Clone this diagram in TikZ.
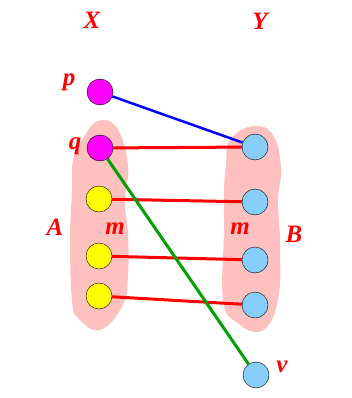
\documentclass[tikz,border=0pt]{standalone}
\usepackage{fontspec}
\setmainfont{Liberation Serif}
\usepackage{xcolor}
\usepackage{tikz}
\usetikzlibrary{positioning,calc}
\definecolor{setpink}{RGB}{255,192,192}
\definecolor{ptmag}{RGB}{255,0,255}
\definecolor{ptyel}{RGB}{255,255,0}
\definecolor{ptsky}{RGB}{135,206,250}
\definecolor{matchgreen}{RGB}{0,160,0}
\tikzset{
  pt/.style={circle, draw=black, thin, minimum size=26pt, inner sep=0pt},
  xpt/.style={pt, fill=ptmag},
  apt/.style={pt, fill=ptyel},
  ypt/.style={pt, fill=ptsky},
  lab/.style={font=\fontsize{25}{30}\selectfont\bfseries\itshape, text=red, inner sep=0pt},
  blob/.style={fill=setpink, draw=none},
  link/.style={line width=3pt, red},
  plink/.style={line width=2.5pt, blue},
  vlink/.style={line width=3pt, matchgreen}
}

\begin{document}
\begin{tikzpicture}[x=1pt,y=-1pt]
    \useasboundingbox (0,0) rectangle (352,398);
    % the two sets
    \fill[blob] plot[smooth cycle, tension=0.7] coordinates {(98,121) (117,128) (128,165) (125,200)
      (128,235) (128,275) (123,305) (100,330) (78,318) (72,300) (70,240) (72,190) (73,160) (82,140)};
    \fill[blob] plot[smooth cycle, tension=0.7] coordinates {(253,126) (273,135) (281,168) (278,200)
      (280,245) (278,300) (262,331) (236,322) (223,300) (224,230) (224,190) (226,165) (230,140)};
    % points
    \node[xpt] (p) at (100,92) {};
    \node[xpt] (q) at (100,148) {};
    \foreach \i/\y in {1/199,2/256,3/296} \node[apt] (a\i) at (99,\y) {};
    \foreach \i/\y in {1/147,2/202,3/260,4/305} \node[ypt] (b\i) at (255,\y) {};
    \node[ypt] (v) at (256,375) {};
    % matching
    \draw[plink] (p) -- (b1);
    \draw[link] (q) -- (b1);
    \draw[link] (a1) -- (b2);
    \draw[link] (a2) -- (b3);
    \draw[link] (a3) -- (b4);
    \draw[vlink] (q) -- (v);
    % labels
    \node[lab] (lX) at (92,20) {X};
    \node[lab] (lY) at (260,21) {Y};
    \node[lab] (lp) at (69,82) {p};
    \node[lab] (lq) at (75,146) {q};
    \node[lab] (lA) at (55,227) {A};
    \node[lab] (lmA) at (115,229) {m};
    \node[lab] (lmB) at (240,229) {m};
    \node[lab] (lB) at (294,234) {B};
    \node[lab] (lv) at (282,367) {v};
\end{tikzpicture}
\end{document}
